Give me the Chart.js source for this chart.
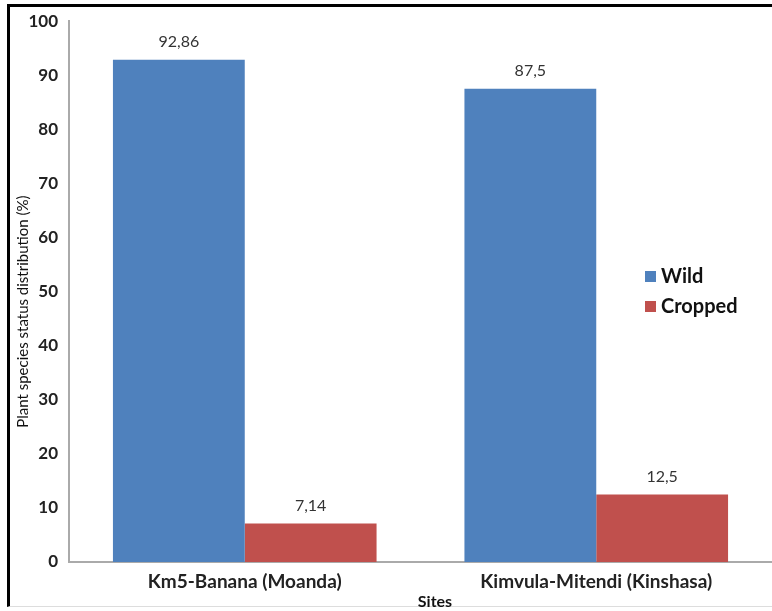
<!DOCTYPE html>
<html>
<head>
<meta charset="utf-8">
<script src="https://cdn.jsdelivr.net/npm/chart.js@4"></script>
<style>
  html, body { margin: 0; padding: 0; background: #fff; overflow: hidden; width: 772px; height: 611px; }
  #frame {
    position: absolute; left: 7px; top: 4px; width: 765px; height: 603px;
    border-top: 3px solid #000; border-left: 3px solid #000; border-bottom: 1px solid #ddd;
    border-right: none; box-sizing: border-box;
  }
  #statusChart { position: absolute; left: 0; top: 0; }
</style>
</head>
<body>
<div id="frame"></div>
<canvas id="statusChart" width="772" height="611"></canvas>
<script>
const sites = ["Km5-Banana (Moanda)", "Kimvula-Mitendi (Kinshasa)"];
const wildValues = [92.86, 87.5];
const croppedValues = [7.14, 12.5];
const yTicks = [0, 10, 20, 30, 40, 50, 60, 70, 80, 90, 100];

const FONT = "Lato, 'Open Sans', sans-serif";

// value labels above each bar, decimal comma
const valueLabels = {
    id: "valueLabels",
    afterDatasetsDraw(chart) {
        const ctx = chart.ctx;
        ctx.save();
        ctx.font = "16px " + FONT;
        ctx.fillStyle = "#333";
        ctx.textAlign = "center";
        ctx.textBaseline = "bottom";
        chart.data.datasets.forEach((ds, i) => {
            chart.getDatasetMeta(i).data.forEach((bar, j) => {
                ctx.fillText(String(ds.data[j]).replace(".", ","), bar.x, bar.y - 10);
            });
        });
        ctx.restore();
    }
};

// axis titles and the legend, drawn by hand
const extras = {
    id: "extras",
    afterDraw(chart) {
        const ctx = chart.ctx;
        const area = chart.chartArea;
        ctx.save();

        ctx.fillStyle = "#111";
        ctx.font = "15px " + FONT;
        ctx.textAlign = "center";
        ctx.textBaseline = "middle";
        ctx.translate(23, (area.top + area.bottom) / 2 + 20);
        ctx.rotate(-Math.PI / 2);
        ctx.fillText("Plant species status distribution (%)", 0, 0);
        ctx.setTransform(1, 0, 0, 1, 0, 0);

        ctx.font = "bold 16px " + FONT;
        ctx.fillText("Sites", 435, 602);

        ctx.font = "bold 20px " + FONT;
        ctx.textAlign = "left";
        chart.data.datasets.forEach((ds, i) => {
            const y = 276 + i * 30;
            ctx.fillStyle = ds.backgroundColor;
            ctx.fillRect(645, y - 5, 11, 11);
            ctx.fillStyle = "#111";
            ctx.fillText(ds.label, 661, y + 1);
        });
        ctx.restore();
    }
};

new Chart(document.getElementById("statusChart").getContext("2d"), {
    type: "bar",
    data: {
        labels: sites,
        datasets: [
            { label: "Wild", data: wildValues, backgroundColor: "#4F81BD" },
            { label: "Cropped", data: croppedValues, backgroundColor: "#C0504D" }
        ]
    },
    options: {
        responsive: false,
        animation: false,
        layout: { padding: { top: 14, right: 0, bottom: 0, left: 0 } },
        datasets: { bar: { categoryPercentage: 0.75, barPercentage: 1 } },
        plugins: {
            legend: { display: false },
            tooltip: { enabled: false }
        },
        scales: {
            x: {
                grid: { display: false, drawTicks: false },
                border: { color: "#aaa", width: 2 },
                ticks: { font: { family: FONT, size: 19, weight: "bold" }, color: "#222", padding: 8 },
                afterFit(scale) { scale.height = 49; }
            },
            y: {
                min: 0, max: 100,
                afterBuildTicks(scale) { scale.ticks = yTicks.map(v => ({ value: v })); },
                grid: { display: false, drawTicks: false },
                border: { color: "#aaa", width: 2 },
                ticks: { font: { family: FONT, size: 17, weight: "bold" }, color: "#222", padding: 11 },
                afterFit(scale) { scale.width = 69; }
            }
        }
    },
    plugins: [valueLabels, extras]
});
</script>
</body>
</html>
